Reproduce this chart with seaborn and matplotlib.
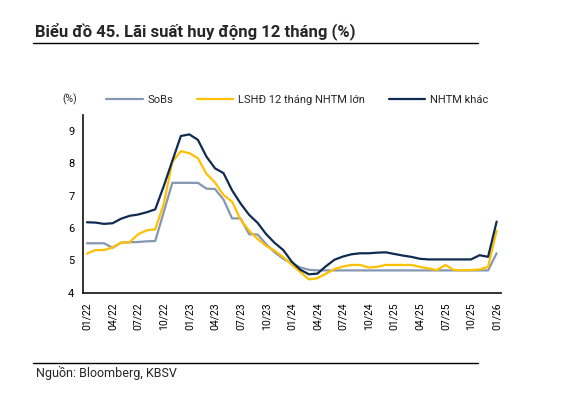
import pandas as pd
import matplotlib
matplotlib.use("Agg")
import matplotlib.pyplot as plt
from matplotlib.lines import Line2D
import seaborn as sns

# Du lieu hang thang 01/22 - 01/26 (doc tu bieu do)
months = [f"{m:02d}/{y:02d}" for y in range(22, 27) for m in range(1, 13)][:49]

sobs = [5.53, 5.53, 5.53, 5.39, 5.55, 5.56, 5.57, 5.59, 5.60, 6.50,
        7.40, 7.40, 7.40, 7.40, 7.22, 7.21, 6.88, 6.30, 6.30, 5.81,
        5.80, 5.50, 5.25, 5.05, 4.91, 4.78, 4.71, 4.69, 4.69, 4.69,
        4.69, 4.69, 4.69, 4.69, 4.69, 4.69, 4.69, 4.69, 4.69, 4.69,
        4.69, 4.69, 4.69, 4.69, 4.69, 4.69, 4.69, 4.69, 5.22]

lshd_lon = [5.21, 5.32, 5.32, 5.40, 5.55, 5.56, 5.81, 5.93, 5.96, 6.75,
            8.05, 8.38, 8.32, 8.16, 7.68, 7.41, 7.02, 6.82, 6.26, 5.92,
            5.66, 5.45, 5.30, 5.10, 4.87, 4.64, 4.41, 4.45, 4.59, 4.73,
            4.81, 4.86, 4.86, 4.78, 4.80, 4.86, 4.86, 4.86, 4.86, 4.80,
            4.75, 4.70, 4.86, 4.70, 4.70, 4.70, 4.72, 4.80, 5.92]

nhtm_khac = [6.18, 6.17, 6.13, 6.15, 6.29, 6.38, 6.42, 6.49, 6.58, 7.30,
             8.08, 8.85, 8.90, 8.73, 8.21, 7.85, 7.70, 7.17, 6.76, 6.41,
             6.16, 5.81, 5.54, 5.32, 4.96, 4.71, 4.57, 4.59, 4.82, 5.02,
             5.12, 5.19, 5.22, 5.22, 5.24, 5.25, 5.20, 5.15, 5.11, 5.05,
             5.03, 5.03, 5.03, 5.03, 5.03, 5.03, 5.16, 5.11, 6.20]

series_names = ["SoBs", "LSHĐ 12 tháng NHTM lớn", "NHTM khác"]
colors = ["#8497B0", "#FFC000", "#0F2B50"]

df = pd.DataFrame({"idx": range(len(months)),
                   series_names[0]: sobs,
                   series_names[1]: lshd_lon,
                   series_names[2]: nhtm_khac})
long = df.melt(id_vars="idx", var_name="series", value_name="rate")

sns.set_theme(style="white")
plt.rcParams["font.family"] = ["Roboto", "DejaVu Sans"]

W, H = 568, 409
fig = plt.figure(figsize=(W / 100, H / 100), dpi=100)
ax = fig.add_axes([82.7 / W, 1 - 292.7 / H, (500.9 - 82.7) / W, (292.7 - 115) / H])

sns.lineplot(data=long, x="idx", y="rate", hue="series", hue_order=series_names,
             palette=dict(zip(series_names, colors)), linewidth=1.6, ax=ax)

ax.set_xlim(-0.5, len(months) - 0.5)
ax.set_ylim(4, 9.5)
ax.set_yticks(range(4, 10))
ax.tick_params(axis="y", direction="inout", length=6, width=1.1, labelsize=8,
               colors="#222222", labelcolor="black", pad=3)

tick_pos = list(range(0, len(months), 3))
ax.set_xticks(tick_pos)
ax.set_xticklabels([months[i] for i in tick_pos], rotation=90, fontsize=7.5)
ax.set_xticks([p - 0.5 for p in tick_pos], minor=True)
ax.tick_params(axis="x", which="major", length=0, pad=7, labelcolor="black")
ax.tick_params(axis="x", which="minor", direction="in", length=3, width=1.1,
               colors="#222222")
ax.set_xlabel("")
ax.set_ylabel("")

for s in ["top", "right"]:
    ax.spines[s].set_visible(False)
for s in ["left", "bottom"]:
    ax.spines[s].set_color("#222222")
    ax.spines[s].set_linewidth(1.3)

handles, labels = ax.get_legend_handles_labels()
ax.legend(handles, labels, ncol=3, frameon=False, loc="center left",
          bbox_to_anchor=(106 / W, 1 - 100 / H), bbox_transform=fig.transFigure,
          borderaxespad=0, borderpad=0, handlelength=3.3, handletextpad=0.45,
          columnspacing=2.1, fontsize=8)

fig.text(62 / W, 1 - 99 / H, "(%)", fontsize=7.5, va="center", ha="left")

fig.text(35 / W, 1 - 31 / H, "Biểu đồ 45. Lãi suất huy động 12 tháng (%)",
         fontsize=12, fontweight="bold", va="center", ha="left")
fig.add_artist(Line2D([33 / W, 478 / W], [1 - 43 / H] * 2, color="black", lw=1))
fig.add_artist(Line2D([33 / W, 478 / W], [1 - 362.7 / H] * 2, color="black", lw=1))
fig.text(36 / W, 1 - 373 / H, "Nguồn: Bloomberg, KBSV", fontsize=9,
         va="center", ha="left")

fig.savefig("out.png", dpi=100)
